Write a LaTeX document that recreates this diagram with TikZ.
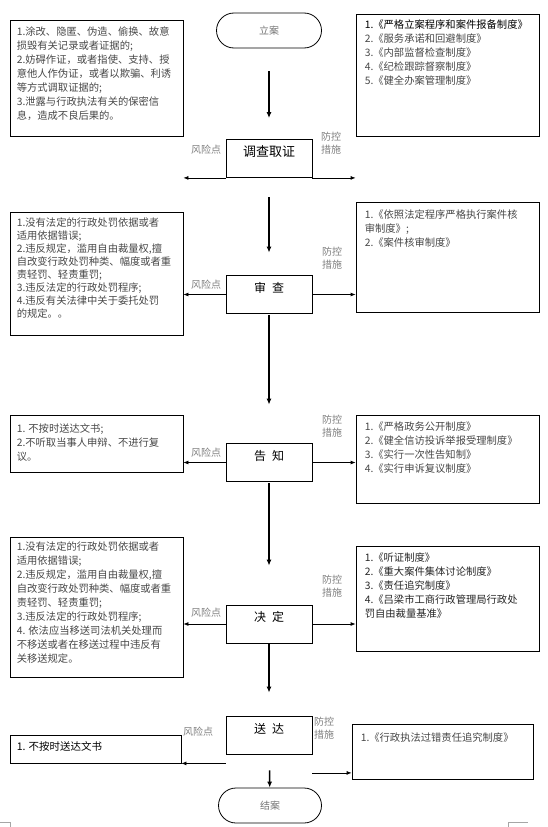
\documentclass[tikz,border=0pt]{standalone}
\usepackage{fontspec}
\setmainfont{Noto Sans CJK SC}
\usetikzlibrary{arrows.meta}

\tikzset{
    stage/.style={draw, line width=0.8pt, minimum width=86, inner xsep=2pt, inner ysep=3pt,
        text height=13.5pt, text depth=18.5pt, font=\fontsize{12}{12}\selectfont},
    endcap/.style={draw, line width=0.8pt, rounded corners=17.5pt, minimum width=105,
        minimum height=35, text=black!55, font=\fontsize{10}{10}\selectfont},
    riskbox/.style={draw, line width=0.8pt, minimum width=173, inner sep=0pt},
    ctrlbox/.style={draw, line width=0.8pt, minimum width=183, inner sep=0pt},
    boxtext/.style={anchor=north west, inner sep=0pt, align=left, text=black!72,
        font=\fontsize{10.3}{14}\selectfont},
    tag/.style={inner sep=0pt, align=center, text=black!50, font=\fontsize{10}{12.5}\selectfont},
    flow/.style={line width=1.5pt, -{Latex[length=6pt, width=5pt]}},
    sidearrow/.style={line width=0.8pt, -{Latex[length=5pt, width=4pt]}},
    cropmark/.style={black!35, line width=0.6pt}
}

\begin{document}
\begin{tikzpicture}[x=1pt, y=-1pt]
    \useasboundingbox (0,0) rectangle (547,827);

    % Main column
    \node[endcap] (lian) at (269,30.5) {立案};
    \node[stage, font=\fontsize{13}{13}\selectfont] (dczj) at (269,158.5) {调查取证};
    \node[stage] (shencha) at (269,294.5) {审\hspace{6pt}查};
    \node[stage] (gaozhi) at (269,462.5) {告\hspace{6pt}知};
    \node[stage] (jueding) at (269,624) {决\hspace{6pt}定};
    \node[stage] (songda) at (269,735.5) {送\hspace{6pt}达};
    \node[endcap, minimum width=103] (jiean) at (270,805.5) {结案};

    \draw[flow, shorten <=23pt, shorten >=21pt] (lian) -- (dczj);
    \draw[flow, shorten <=19.5pt, shorten >=22.5pt] (dczj) -- (shencha);
    \draw[flow, shorten <=1pt, shorten >=38.5pt] (shencha) -- (gaozhi);
    \draw[flow, shorten <=1pt, shorten >=39pt] (gaozhi) -- (jueding);
    \draw[flow, shorten <=1pt, shorten >=23.5pt] (jueding) -- (songda);
    \draw[flow, shorten <=15.5pt] (songda) -- (jiean);

    % Investigation
    \node[riskbox, minimum height=116] (risk1) at (96.5,78) {};
    \node[boxtext] (risk1txt) at ([xshift=7pt, yshift=-7pt]risk1.north west)
        {1.涂改、隐匿、伪造、偷换、故意\\损毁有关记录或者证据的;\\2.妨碍作证，或者指使、支持、授\\意他人作伪证，或者以欺骗、利诱\\等方式调取证据的;\\3.泄露与行政执法有关的保密信\\息，造成不良后果的。};
    \node[ctrlbox, minimum height=122] (ctrl1) at (447.5,75) {};
    \node[boxtext] (ctrl1txt) at ([xshift=9pt, yshift=-6pt]ctrl1.north west)
        {{\color{black}1.《严格立案程序和案件报备制度》}\\2.《服务承诺和回避制度》\\3.《内部监督检查制度》\\4.《纪检跟踪督察制度》\\5.《健全办案管理制度》};
    \node[tag] (risktag1) at (206,150) {风险点};
    \node[tag] (ctrltag1) at (331,143) {防控\\措施};
    \draw[sidearrow] (dczj.south west) -- (dczj.south west -| risk1.east);
    \draw[sidearrow] (dczj.south east) -- (dczj.south east -| ctrl1.west);

    % Review
    \node[riskbox, minimum height=123] (risk2) at (96.5,273.5) {};
    \node[boxtext, font=\fontsize{10.3}{13}\selectfont] (risk2txt) at ([xshift=7pt, yshift=-6pt]risk2.north west)
        {1.没有法定的行政处罚依据或者\\适用依据错误;\\2.违反规定，滥用自由裁量权,擅\\自改变行政处罚种类、幅度或者重\\责轻罚、轻责重罚;\\3.违反法定的行政处罚程序;\\4.违反有关法律中关于委托处罚\\的规定。。};
    \node[ctrlbox, minimum height=110] (ctrl2) at (447.5,257) {};
    \node[boxtext] (ctrl2txt) at ([xshift=9pt, yshift=-8pt]ctrl2.north west)
        {1.《依照法定程序严格执行案件核\\审制度》;\\2.《案件核审制度》};
    \node[tag] (risktag2) at (206,285) {风险点};
    \node[tag] (ctrltag2) at (332,258) {防控\\措施};
    \draw[sidearrow] (shencha.west) -- (shencha.west -| risk2.east);
    \draw[sidearrow] (shencha.east) -- (shencha.east -| ctrl2.west);

    % Notice
    \node[riskbox, minimum height=57] (risk3) at (96.5,443.5) {};
    \node[boxtext] (risk3txt) at ([xshift=7pt, yshift=-9pt]risk3.north west)
        {1. 不按时送达文书;\\2.不听取当事人申辩、不进行复\\议。};
    \node[ctrlbox, minimum height=88] (ctrl3) at (447.5,459) {};
    \node[boxtext] (ctrl3txt) at ([xshift=9pt, yshift=-7pt]ctrl3.north west)
        {1.《严格政务公开制度》\\2.《健全信访投诉举报受理制度》\\3.《实行一次性告知制》\\4.《实行申诉复议制度》};
    \node[tag] (risktag3) at (206,453) {风险点};
    \node[tag] (ctrltag3) at (332,426) {防控\\措施};
    \draw[sidearrow] (gaozhi.west) -- (gaozhi.west -| risk3.east);
    \draw[sidearrow] (gaozhi.east) -- (gaozhi.east -| ctrl3.west);

    % Decision
    \node[riskbox, minimum height=140] (risk4) at (96.5,607) {};
    \node[boxtext] (risk4txt) at ([xshift=7pt, yshift=-5pt]risk4.north west)
        {1.没有法定的行政处罚依据或者\\适用依据错误;\\2.违反规定，滥用自由裁量权,擅\\自改变行政处罚种类、幅度或者重\\责轻罚、轻责重罚;\\3.违反法定的行政处罚程序;\\4. 依法应当移送司法机关处理而\\不移送或者在移送过程中违反有\\关移送规定。};
    \node[ctrlbox, minimum height=105] (ctrl4) at (447.5,598.5) {};
    \node[boxtext, text=black!85] (ctrl4txt) at ([xshift=9pt, yshift=-7pt]ctrl4.north west)
        {1.《听证制度》\\2.《重大案件集体讨论制度》\\3.《责任追究制度》\\4.《吕梁市工商行政管理局行政处\\罚自由裁量基准》};
    \node[tag] (risktag4) at (206,613) {风险点};
    \node[tag] (ctrltag4) at (332,586) {防控\\措施};
    \draw[sidearrow] (jueding.west) -- (jueding.west -| risk4.east);
    \draw[sidearrow] (jueding.east) -- (jueding.east -| ctrl4.west);

    % Delivery
    \node[riskbox, minimum width=171, minimum height=28] (risk5) at (95.5,749) {};
    \node[boxtext, text=black, font=\fontsize{10.5}{14}\selectfont] (risk5txt) at ([xshift=7pt, yshift=-7pt]risk5.north west)
        {1. 不按时送达文书};
    \node[ctrlbox, minimum width=181, minimum height=55] (ctrl5) at (442.5,751.5) {};
    \node[boxtext] (ctrl5txt) at ([xshift=9pt, yshift=-9pt]ctrl5.north west)
        {1.《行政执法过错责任追究制度》};
    \node[tag] (risktag5) at (198,732) {风险点};
    \node[tag] (ctrltag5) at (324,728) {防控\\措施};
    \coordinate (sdright) at ([yshift=-18pt]songda.south east);
    \draw[sidearrow] (songda.west |- risk5.south) -- (risk5.south east);
    \draw[sidearrow] (sdright) -- (sdright -| ctrl5.west);

    % page corner marks
    \draw[cropmark] (0,822) -| (10,827);
    \draw[cropmark] (508,827) |- (528,822);
\end{tikzpicture}
\end{document}
